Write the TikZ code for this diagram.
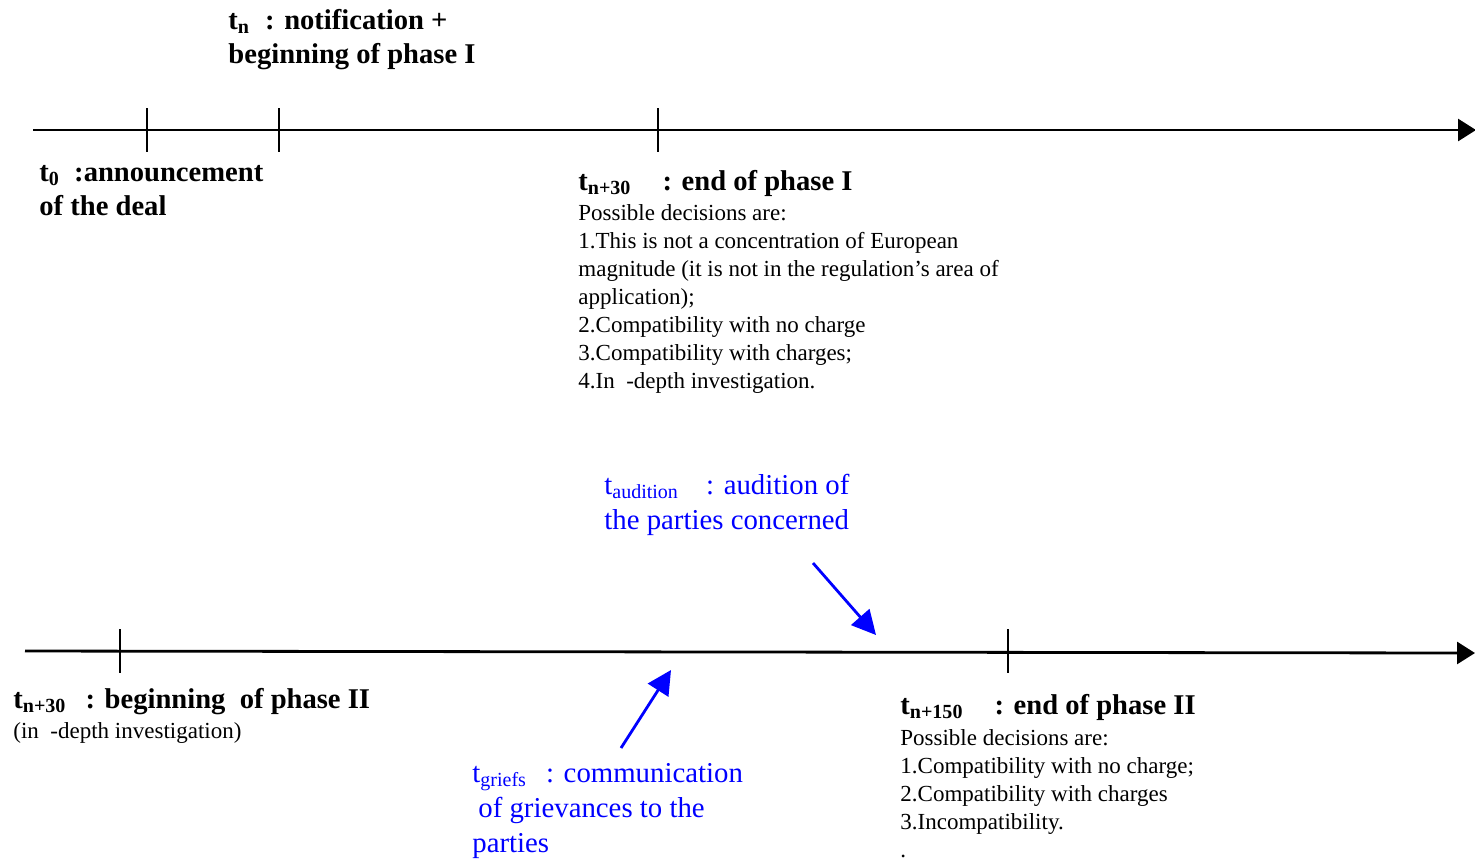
\documentclass[tikz,border=0pt]{standalone}
\usepackage{fontspec}
\setmainfont{Liberation Serif}
\usetikzlibrary{arrows.meta,positioning}

\begin{document}
\begin{tikzpicture}[x=0.5pt,y=-0.5pt,
    axis/.style={line width=1.4pt,-{Triangle[length=9pt,width=11pt]}},
    tickmark/.style={line width=1.2pt},
    head/.style={anchor=base west,inner sep=0pt,align=left,
      font=\fontsize{14.3}{17}\bfseries\selectfont},
    body/.style={anchor=base west,inner sep=0pt,align=left,
      font=\fontsize{11.5}{14}\selectfont},
    note/.style={anchor=base west,inner sep=0pt,align=left,text=blue,
      font=\fontsize{14.4}{17.5}\selectfont},
    pointer/.style={blue,line width=1.4pt,-{Triangle[length=12pt,width=12pt]}}]
  \useasboundingbox (0,0) rectangle (1475,859);

  % phase I time line
  \coordinate (AxI0) at (33,130);
  \coordinate (AxI1) at (1476,130);
  \draw[axis] (AxI0) -- (AxI1);
  \foreach \x/\n in {147/t0,279/tn,658/tend} {
    \coordinate (\n) at (\x,130);
    \draw[tickmark] (\n) ++(0,-22) -- ++(0,44);
  }

  \node[head] (Tn) at (228,63)
    {t\textsubscript{n}\hspace{4pt} : notification +\\beginning of phase I};
  \node[head] (T0) at (39,215)
    {t\textsubscript{0} \ :announcement\\of the deal};
  \node[head] (Tend) at (578,190)
    {t\textsubscript{n+30}\hspace{12pt} : end of phase I};
  \node[body] (DecI) at (578,388)
    {Possible decisions are:\\
     1.This is not a concentration of European\\
     magnitude (it is not in the regulation’s area of\\
     application);\\
     2.Compatibility with no charge\\
     3.Compatibility with charges;\\
     4.In \ -depth investigation.};

  % phase II time line
  \coordinate (AxII0) at (25,651);
  \coordinate (AxII1) at (1475,653);
  \draw[axis] (AxII0) -- (AxII1);
  \foreach \x/\n in {120/tbeg,1008/tfin} {
    \coordinate (\n) at (\x,651);
    \draw[tickmark] (\n) ++(0,-22) -- ++(0,44);
  }

  \node[head] (Tbeg) at (13,708)
    {t\textsubscript{n+30}\hspace{6pt} : beginning \ of phase II};
  \node[body] (InDepth) at (13,738) {(in \ -depth investigation)};
  \node[head] (Tfin) at (900,714)
    {t\textsubscript{n+150}\hspace{12pt} : end of phase II};
  \node[body] (DecII) at (900,857)
    {Possible decisions are:\\
     1.Compatibility with no charge;\\
     2.Compatibility with charges\\
     3.Incompatibility.\\
     .};

  % hearings
  \node[note] (Aud) at (604,529)
    {t\textsubscript{audition}\hspace{10pt} : audition of\\the parties concerned};
  \coordinate (AudS) at (813,563);
  \coordinate (AudE) at (876,635);
  \draw[pointer] (AudS) -- (AudE);

  \node[note] (Grf) at (472,852)
    {t\textsubscript{griefs}\hspace{6pt} : communication\\
     \hspace*{3pt}of grievances to the\\parties};
  \coordinate (GrfS) at (621,748);
  \coordinate (GrfE) at (671,670);
  \draw[pointer] (GrfS) -- (GrfE);
\end{tikzpicture}
\end{document}
